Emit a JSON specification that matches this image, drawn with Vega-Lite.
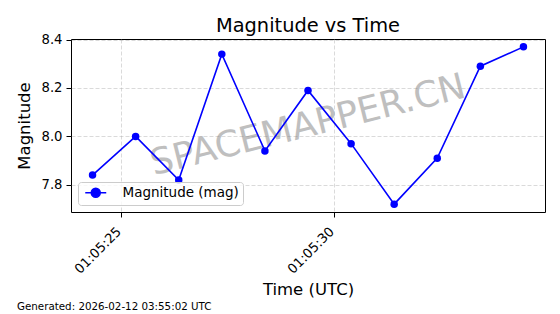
{
  "$schema": "https://vega.github.io/schema/vega-lite/v6.json",
  "width": 474,
  "height": 173,
  "autosize": "none",
  "padding": {"left": 71, "top": 39, "right": 15, "bottom": 102},
  "background": "white",
  "title": {"text": "Magnitude vs Time", "fontSize": 19.4, "font": "DejaVu Sans", "fontWeight": "normal", "color": "black", "anchor": "middle", "offset": -4},
  "config": {
    "view": {"stroke": "black", "strokeWidth": 1},
    "axis": {
      "labelFont": "DejaVu Sans", "labelFontSize": 13.2, "labelColor": "black",
      "titleFont": "DejaVu Sans", "titleFontSize": 16.5, "titleFontWeight": "normal", "titleColor": "black",
      "tickColor": "black", "tickSize": 5, "domain": false, "grid": true,
      "gridColor": "#b0b0b0", "gridOpacity": 0.6, "gridDash": [4, 2], "gridWidth": 0.8
    },
    "legend": {
      "labelFont": "DejaVu Sans", "labelFontSize": 13.5, "labelColor": "black"
    }
  },
  "datasets": {
    "series": [
      {"time": "2026-02-12T01:05:24.320Z", "magnitude": 7.84, "series": "Magnitude (mag)"},
      {"time": "2026-02-12T01:05:25.332Z", "magnitude": 8.00, "series": "Magnitude (mag)"},
      {"time": "2026-02-12T01:05:26.344Z", "magnitude": 7.82, "series": "Magnitude (mag)"},
      {"time": "2026-02-12T01:05:27.356Z", "magnitude": 8.34, "series": "Magnitude (mag)"},
      {"time": "2026-02-12T01:05:28.368Z", "magnitude": 7.94, "series": "Magnitude (mag)"},
      {"time": "2026-02-12T01:05:29.380Z", "magnitude": 8.19, "series": "Magnitude (mag)"},
      {"time": "2026-02-12T01:05:30.392Z", "magnitude": 7.97, "series": "Magnitude (mag)"},
      {"time": "2026-02-12T01:05:31.404Z", "magnitude": 7.72, "series": "Magnitude (mag)"},
      {"time": "2026-02-12T01:05:32.416Z", "magnitude": 7.91, "series": "Magnitude (mag)"},
      {"time": "2026-02-12T01:05:33.428Z", "magnitude": 8.29, "series": "Magnitude (mag)"},
      {"time": "2026-02-12T01:05:34.440Z", "magnitude": 8.37, "series": "Magnitude (mag)"}
    ],
    "watermark": [{"label": "SPACEMAPPER.CN"}],
    "footer": [{"label": "Generated: 2026-02-12 03:55:02 UTC"}]
  },
  "layer": [
    {
      "data": {"name": "watermark"},
      "mark": {"type": "text", "font": "DejaVu Sans", "fontSize": 36, "color": "gray", "opacity": 0.5, "angle": -14, "align": "center", "baseline": "middle"},
      "encoding": {
        "x": {
          "datum": {"year": 2026, "month": 2, "date": 12, "hours": 1, "minutes": 5, "seconds": 29, "milliseconds": 380, "utc": true}, "type": "temporal",
          "scale": {"type": "utc", "domain": [
            {"year": 2026, "month": 2, "date": 12, "hours": 1, "minutes": 5, "seconds": 23, "milliseconds": 814, "utc": true},
            {"year": 2026, "month": 2, "date": 12, "hours": 1, "minutes": 5, "seconds": 34, "milliseconds": 946, "utc": true}
          ]},
          "axis": {
            "title": "Time (UTC)", "labelExpr": "utcFormat(datum.value, '%H:%M:%S')", "grid": true,
            "values": [
              {"year": 2026, "month": 2, "date": 12, "hours": 1, "minutes": 5, "seconds": 25, "utc": true},
              {"year": 2026, "month": 2, "date": 12, "hours": 1, "minutes": 5, "seconds": 30, "utc": true}
            ],
            "labelAngle": -45, "labelAlign": "right", "labelBaseline": "alphabetic", "labelPadding": 15, "labelDx": -3, "labelDy": -2,
            "titlePadding": 6
          }
        },
        "y": {
          "datum": 8.045, "type": "quantitative",
          "scale": {"domain": [7.6875, 8.4025], "nice": false, "zero": false},
          "axis": {"title": "Magnitude", "grid": true, "values": [7.8, 8.0, 8.2, 8.4], "format": ".1f", "labelPadding": 4, "titlePadding": 9}
        },
        "text": {"field": "label"}
      }
    },
    {
      "data": {"name": "series"},
      "mark": {"type": "line", "strokeWidth": 1.6, "point": {"filled": true, "size": 56}},
      "encoding": {
        "x": {
          "field": "time", "type": "temporal",
          "scale": {"type": "utc", "domain": [
            {"year": 2026, "month": 2, "date": 12, "hours": 1, "minutes": 5, "seconds": 23, "milliseconds": 814, "utc": true},
            {"year": 2026, "month": 2, "date": 12, "hours": 1, "minutes": 5, "seconds": 34, "milliseconds": 946, "utc": true}
          ]},
          "axis": {
            "title": "Time (UTC)", "labelExpr": "utcFormat(datum.value, '%H:%M:%S')", "grid": true,
            "values": [
              {"year": 2026, "month": 2, "date": 12, "hours": 1, "minutes": 5, "seconds": 25, "utc": true},
              {"year": 2026, "month": 2, "date": 12, "hours": 1, "minutes": 5, "seconds": 30, "utc": true}
            ],
            "labelAngle": -45, "labelAlign": "right", "labelBaseline": "alphabetic", "labelPadding": 15, "labelDx": -3, "labelDy": -2,
            "titlePadding": 6
          }
        },
        "y": {
          "field": "magnitude", "type": "quantitative",
          "scale": {"domain": [7.6875, 8.4025], "nice": false, "zero": false},
          "axis": {"title": "Magnitude", "grid": true, "values": [7.8, 8.0, 8.2, 8.4], "format": ".1f", "labelPadding": 4, "titlePadding": 9}
        },
        "color": {
          "field": "series", "type": "nominal",
          "scale": {"domain": ["Magnitude (mag)"], "range": ["#0000ff"]},
          "legend": {
            "title": null, "orient": "bottom-left", "offset": 7,
            "fillColor": "rgba(255,255,255,0.8)", "strokeColor": "#cccccc", "cornerRadius": 3, "padding": 4,
            "symbolType": "M-2,0L2,0M0.85,0A0.85,0.85 0 1,1 -0.85,0A0.85,0.85 0 1,1 0.85,0Z",
            "symbolSize": 110, "symbolStrokeWidth": 1.6, "symbolFillColor": "#0000ff", "symbolStrokeColor": "#0000ff",
            "symbolOffset": 7, "labelOffset": 20
          }
        }
      }
    },
    {
      "data": {"name": "footer"},
      "mark": {"type": "text", "font": "DejaVu Sans", "fontSize": 10.3, "color": "black", "align": "left", "baseline": "alphabetic"},
      "encoding": {
        "x": {
          "datum": {"year": 2026, "month": 2, "date": 12, "hours": 1, "minutes": 5, "seconds": 22, "milliseconds": 546, "utc": true}, "type": "temporal",
          "scale": {"type": "utc", "domain": [
            {"year": 2026, "month": 2, "date": 12, "hours": 1, "minutes": 5, "seconds": 23, "milliseconds": 814, "utc": true},
            {"year": 2026, "month": 2, "date": 12, "hours": 1, "minutes": 5, "seconds": 34, "milliseconds": 946, "utc": true}
          ]},
          "axis": {
            "title": "Time (UTC)", "labelExpr": "utcFormat(datum.value, '%H:%M:%S')", "grid": true,
            "values": [
              {"year": 2026, "month": 2, "date": 12, "hours": 1, "minutes": 5, "seconds": 25, "utc": true},
              {"year": 2026, "month": 2, "date": 12, "hours": 1, "minutes": 5, "seconds": 30, "utc": true}
            ],
            "labelAngle": -45, "labelAlign": "right", "labelBaseline": "alphabetic", "labelPadding": 15, "labelDx": -3, "labelDy": -2,
            "titlePadding": 6
          }
        },
        "y": {
          "datum": 7.2825, "type": "quantitative",
          "scale": {"domain": [7.6875, 8.4025], "nice": false, "zero": false},
          "axis": {"title": "Magnitude", "grid": true, "values": [7.8, 8.0, 8.2, 8.4], "format": ".1f", "labelPadding": 4, "titlePadding": 9}
        },
        "text": {"field": "label"}
      }
    }
  ]
}
